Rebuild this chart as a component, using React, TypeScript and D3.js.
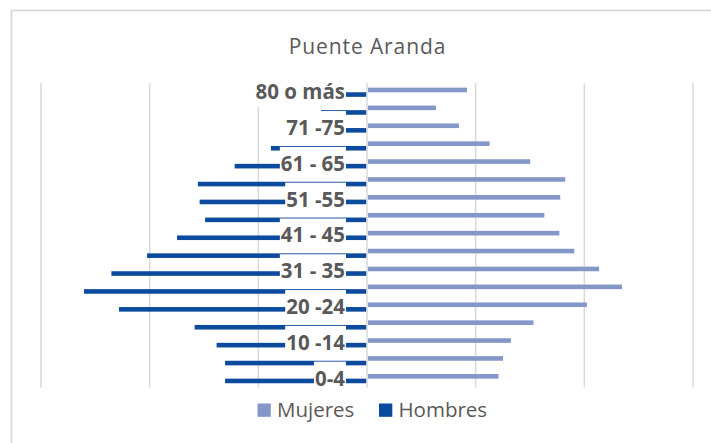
import React, { useEffect, useRef } from "react";
import * as d3 from "d3";

const categories = ["0-4", "5-9", "10 -14", "15-19", "20 -24", "25-30", "31 - 35", "36-40", "41 - 45", "46-50", "51 -55", "56-60", "61 - 65", "66-70", "71 -75", "76-79", "80 o más"];
const mujeres = [6050, 6260, 6620, 7660, 10120, 11730, 10680, 9540, 8850, 8160, 8890, 9120, 7510, 5640, 4230, 3170, 4600];
const hombres = [6530, 6530, 6920, 7930, 11410, 13020, 11760, 10120, 8740, 7450, 7700, 7780, 6090, 4420, 3200, 2120, 2500];
const gridTicks = [-15000, -10000, -5000, 0, 5000, 10000, 15000];
const seriesNames = ["Mujeres", "Hombres"];
const title = "Puente Aranda";

const W = 711, H = 443;
const COL_M = "#8497C9";
const COL_H = "#0B4A9C";
const TXT = "#595959";
const FONT = "'Open Sans', 'Noto Sans', sans-serif";

export default function App() {
  const ref = useRef<SVGSVGElement>(null);
  useEffect(() => {
    const svg = d3.select(ref.current);
    svg.selectAll("*").remove();

    const x = d3.scaleLinear().domain([-15000, 15000]).range([41, 693]);
    const y = d3.scaleBand<string>().domain([...categories].reverse()).range([83.3, 387.6]).padding(0);
    const bw = y.bandwidth();
    const barH = bw * 0.257;
    const cy = (c: string) => (y(c) as number) + bw / 2;

    // chart border
    svg.append("rect").attr("x", 11.5).attr("y", 10.5).attr("width", 900).attr("height", 600)
      .attr("fill", "#fff").attr("stroke", "#D9D9D9").attr("stroke-width", 1.75);

    // title
    svg.append("text").attr("x", 367.5).attr("y", 54.3).attr("text-anchor", "middle")
      .attr("font-family", FONT).attr("font-size", 21).attr("letter-spacing", 0.9)
      .attr("fill", TXT).text(title);

    // gridlines
    svg.append("g").selectAll("line").data(gridTicks).join("line")
      .attr("x1", (d) => x(d)).attr("x2", (d) => x(d))
      .attr("y1", 83.3).attr("y2", 387.6)
      .attr("stroke", "#D9D9D9").attr("stroke-width", 1.5);

    const x0 = x(0);
    // Mujeres bars (right)
    svg.append("g").selectAll("rect").data(mujeres).join("rect")
      .attr("x", x0 + 1)
      .attr("y", (_, i) => cy(categories[i]) - barH)
      .attr("width", (d) => x(d) - x0 - 1)
      .attr("height", barH)
      .attr("fill", COL_M);
    // Hombres bars (left)
    svg.append("g").selectAll("rect").data(hombres).join("rect")
      .attr("x", (d) => x(-d))
      .attr("y", (_, i) => cy(categories[i]))
      .attr("width", (d) => x0 - 0.8 - x(-d))
      .attr("height", barH)
      .attr("fill", COL_H);

    // category labels with white background boxes
    const lg = svg.append("g");
    categories.forEach((c, i) => {
      if (i % 2 !== 0) return;
      const c0 = cy(c);
      const box = lg.append("rect").attr("fill", "#fff");
      const t = lg.append("text").attr("x", 345).attr("y", c0 + 7)
        .attr("text-anchor", "end").attr("font-family", FONT)
        .attr("font-weight", "bold").attr("font-size", 20.5)
        .attr("fill", TXT).text(c);
      const bb = (t.node() as SVGTextElement).getBBox();
      box.attr("x", bb.x - 1).attr("width", 346 - (bb.x - 1))
        .attr("y", c0 - 17).attr("height", 31.5);
    });

    // legend
    const leg = svg.append("g");
    const legItems = [
      { name: seriesNames[0], color: COL_M, sx: 257.5, tx: 277 },
      { name: seriesNames[1], color: COL_H, sx: 379, tx: 398.5 },
    ];
    legItems.forEach((it) => {
      leg.append("rect").attr("x", it.sx).attr("y", 403.5).attr("width", 13.3).attr("height", 13.3).attr("fill", it.color);
      leg.append("text").attr("x", it.tx).attr("y", 416.7).attr("font-family", FONT)
        .attr("font-size", 20.5).attr("fill", TXT).text(it.name);
    });
  }, []);

  return (
    <svg ref={ref} width={W} height={H} style={{ position: "absolute", left: 0, top: 0, background: "#fff" }} />
  );
}
